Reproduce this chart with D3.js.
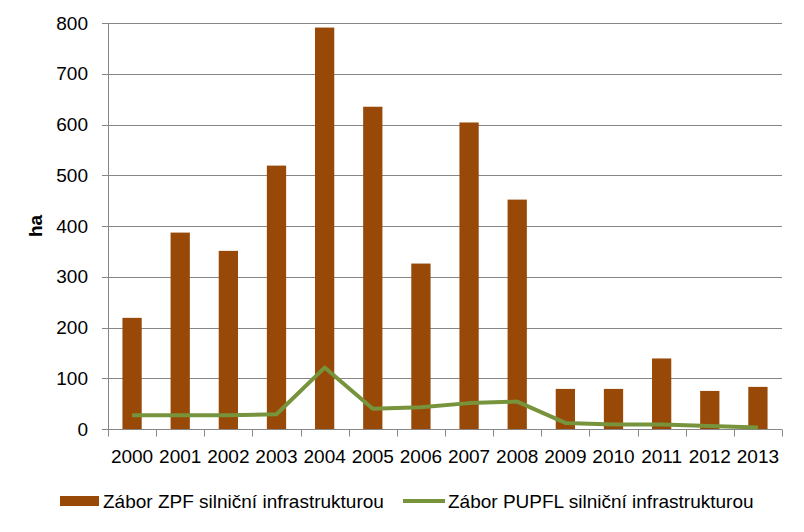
<!DOCTYPE html>
<html>
<head>
<meta charset="utf-8">
<script src="https://cdn.jsdelivr.net/npm/d3@7"></script>
<style>
  body { margin: 0; background: #fff; }
  svg { display: block; font-family: "Liberation Sans", Arial, sans-serif; }
</style>
</head>
<body>
<svg id="chart"></svg>
<script>
const years = ["2000", "2001", "2002", "2003", "2004", "2005", "2006", "2007", "2008", "2009", "2010", "2011", "2012", "2013"];
const zpf = [219, 387, 351, 519, 791, 635, 326, 604, 452, 79, 79, 139, 75, 83];
const pupfl = [27, 27, 27, 29, 121, 40, 43, 51, 54, 12, 9, 9, 6, 3];
const yTicks = [0, 100, 200, 300, 400, 500, 600, 700, 800];
const seriesNames = ["Zábor ZPF silniční infrastrukturou", "Zábor PUPFL silniční infrastrukturou"];

const width = 804;
const height = 532;
const margin = { top: 23, right: 22, bottom: 103, left: 108 };
const gridColor = "#868686";
const barColor = "#984807";
const lineColor = "#77933C";

const svg = d3.select("#chart").attr("width", width).attr("height", height);

const x = d3.scaleBand()
  .domain(years)
  .range([margin.left, width - margin.right])
  .paddingInner(0.6)
  .paddingOuter(0.3);

const band = d3.scaleBand().domain(years).range([margin.left, width - margin.right]);

const y = d3.scaleLinear()
  .domain([0, 800])
  .range([height - margin.bottom, margin.top]);

// gridlines
svg.append("g")
  .selectAll("line")
  .data(yTicks)
  .join("line")
  .attr("x1", margin.left - 6)
  .attr("x2", width - margin.right)
  .attr("y1", d => Math.round(y(d)) + 0.5)
  .attr("y2", d => Math.round(y(d)) + 0.5)
  .attr("stroke", gridColor)
  .attr("stroke-width", 1);

// y labels
svg.append("g")
  .selectAll("text")
  .data(yTicks)
  .join("text")
  .attr("x", 88)
  .attr("y", d => y(d))
  .attr("dy", "0.35em")
  .attr("text-anchor", "end")
  .attr("font-size", 19)
  .attr("fill", "#000")
  .text(d => d);

// y axis line
svg.append("line")
  .attr("x1", margin.left + 0.5)
  .attr("x2", margin.left + 0.5)
  .attr("y1", y(800))
  .attr("y2", y(0))
  .attr("stroke", gridColor);

// bars
svg.append("g")
  .selectAll("rect")
  .data(zpf)
  .join("rect")
  .attr("x", (d, i) => x(years[i]))
  .attr("width", x.bandwidth())
  .attr("y", d => y(d))
  .attr("height", d => y(0) - y(d))
  .attr("fill", barColor);

// x axis
const xAxis = svg.append("g")
  .attr("transform", `translate(0,${Math.round(y(0)) + 0.5})`);

xAxis.append("line")
  .attr("x1", margin.left)
  .attr("x2", width - margin.right)
  .attr("stroke", gridColor);

const tickPos = years.map(d => band(d)).concat([width - margin.right]);
xAxis.selectAll(".tick")
  .data(tickPos)
  .join("line")
  .attr("class", "tick")
  .attr("x1", d => Math.round(d) + 0.5)
  .attr("x2", d => Math.round(d) + 0.5)
  .attr("y1", 0)
  .attr("y2", 7)
  .attr("stroke", gridColor);

xAxis.selectAll("text")
  .data(years)
  .join("text")
  .attr("x", d => band(d) + band.bandwidth() / 2)
  .attr("y", 33)
  .attr("text-anchor", "middle")
  .attr("font-size", 19)
  .attr("fill", "#000")
  .text(d => d);

// line
const line = d3.line()
  .x((d, i) => band(years[i]) + band.bandwidth() / 2)
  .y(d => y(d));

svg.append("path")
  .datum(pupfl)
  .attr("d", line)
  .attr("fill", "none")
  .attr("stroke", lineColor)
  .attr("stroke-width", 4)
  .attr("stroke-linejoin", "round");

// y title
svg.append("text")
  .attr("transform", "translate(42,226) rotate(-90)")
  .attr("text-anchor", "middle")
  .attr("font-size", 19)
  .attr("font-weight", "bold")
  .text("ha");

// legend
const legend = svg.append("g");
legend.append("rect")
  .attr("x", 60).attr("y", 496)
  .attr("width", 39).attr("height", 10)
  .attr("fill", barColor);
legend.append("text")
  .attr("x", 103).attr("y", 508)
  .attr("font-size", 19)
  .text(seriesNames[0]);
legend.append("line")
  .attr("x1", 403).attr("x2", 445)
  .attr("y1", 501).attr("y2", 501)
  .attr("stroke", lineColor)
  .attr("stroke-width", 4);
legend.append("text")
  .attr("x", 448).attr("y", 508)
  .attr("font-size", 19)
  .text(seriesNames[1]);
</script>
</body>
</html>
